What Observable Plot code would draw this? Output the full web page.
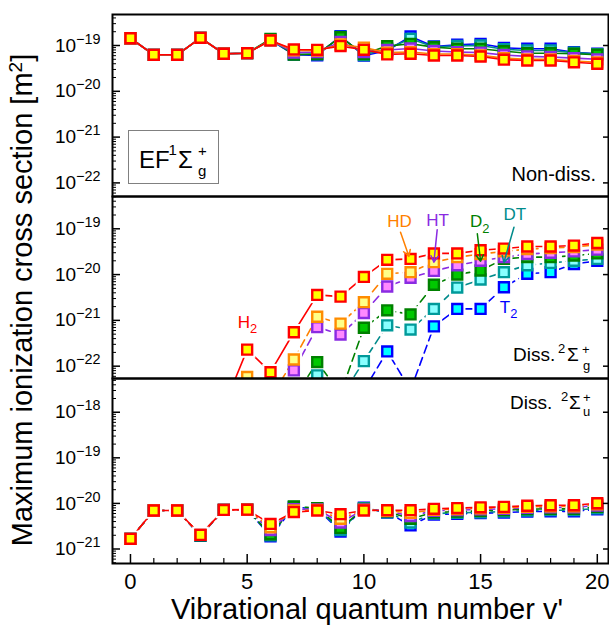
<!DOCTYPE html>
<html><head><meta charset="utf-8">
<script src="https://cdn.jsdelivr.net/npm/d3@7"></script>
<script src="https://cdn.jsdelivr.net/npm/@observablehq/plot@0.6"></script>
<style>
body{margin:0;background:#fff;}
#root{position:relative;width:609px;height:630px;overflow:hidden;font-family:"Liberation Sans",Arial,sans-serif;background:#fff;}
#root svg{position:absolute;left:0;overflow:visible;}
</style></head><body><div id="root"></div>
<script>
// ---------------- data ----------------
const vib = [0,1,2,3,4,5,6,7,8,9,10,11,12,13,14,15,16,17,18,19,20];
const isotopes = ["T2","DT","D2","HT","HD","H2"]; // drawing order (H2 on top)
const isoLabels = ["T_{2}","DT","D_{2}","HT","HD","H_{2}"];

// Panel 1: EF 1Σg+ (non-dissociative)
const efH2 = [1.44e-19,6.26e-20,6.26e-20,1.47e-19,6.6e-20,6.8e-20,1.29e-19,8.2e-20,8.05e-20,9.7e-20,8.05e-20,6.4e-20,6.6e-20,6.05e-20,6.05e-20,5.75e-20,4.9e-20,4.7e-20,4.7e-20,4.3e-20,4.0e-20];
const efHD = [1.44e-19,6.26e-20,6.26e-20,1.47e-19,6.6e-20,6.8e-20,1.29e-19,7.8e-20,7.7e-20,1.05e-19,9.0e-20,7.0e-20,7.2e-20,6.5e-20,6.5e-20,6.1e-20,5.3e-20,5.0e-20,5.0e-20,4.6e-20,4.3e-20];
const efHT = [1.44e-19,6.26e-20,6.26e-20,1.47e-19,6.6e-20,6.8e-20,1.3e-19,7.0e-20,7.2e-20,1.2e-19,7.2e-20,8.0e-20,8.6e-20,7.6e-20,7.2e-20,7.0e-20,6.2e-20,5.8e-20,5.6e-20,5.3e-20,5.0e-20];
const efD2 = [1.44e-19,6.26e-20,6.26e-20,1.47e-19,6.6e-20,6.8e-20,1.4e-19,6.3e-20,6.5e-20,1.52e-19,6.5e-20,9.7e-20,1.09e-19,9.2e-20,8.5e-20,8.5e-20,7.5e-20,6.8e-20,6.8e-20,6.6e-20,6.3e-20];
const efDT = [1.44e-19,6.26e-20,6.26e-20,1.47e-19,6.6e-20,6.8e-20,1.32e-19,6.4e-20,6.4e-20,1.55e-19,6.2e-20,8.5e-20,1.4e-19,9.3e-20,9.8e-20,1.0e-19,8.3e-20,7.8e-20,7.8e-20,7.0e-20,6.5e-20];
const efT2 = [1.44e-19,6.26e-20,6.26e-20,1.47e-19,6.6e-20,6.8e-20,1.32e-19,6.3e-20,6.1e-20,1.6e-19,6.0e-20,7.8e-20,1.57e-19,9.5e-20,1.04e-19,1.09e-19,8.9e-20,8.5e-20,8.5e-20,7.15e-20,6.6e-20];

// Panel 2: dissociative 2Σg+
const gH2 = [null,null,null,null,1.3e-23,2.3e-22,7.4e-23,5.5e-22,3.6e-21,3.3e-21,8.9e-21,2.1e-20,2.2e-20,2.9e-20,2.9e-20,3.4e-20,3.7e-20,4.1e-20,4.1e-20,4.3e-20,4.9e-20];
const gHD = [null,null,null,null,null,5.8e-23,2.0e-23,1.4e-22,1.2e-21,8.5e-22,2.5e-21,1.04e-20,1.13e-20,1.87e-20,2.4e-20,2.8e-20,3.2e-20,3.6e-20,3.8e-20,4.0e-20,4.5e-20];
const gHT = [null,null,null,null,null,null,2.0e-23,8.1e-23,7.1e-22,4.9e-22,1.45e-21,5.5e-21,8.5e-21,1.2e-20,1.6e-20,2.0e-20,2.4e-20,2.8e-20,3.0e-20,3.2e-20,3.5e-20];
const gD2 = [null,null,null,null,null,null,null,2.0e-23,1.23e-22,2.5e-23,6.9e-22,1.66e-21,1.35e-21,6.0e-21,1.0e-20,1.23e-20,2.2e-20,2.4e-20,2.4e-20,2.6e-20,2.9e-20];
const gDT = [null,null,null,null,null,null,null,2.0e-23,6.3e-23,2.0e-23,1.29e-22,7.8e-22,6.3e-22,1.78e-21,5.2e-21,7.8e-21,1.13e-20,1.6e-20,1.8e-20,2.0e-20,2.2e-20];
const gT2 = [null,null,null,null,null,null,null,null,null,null,3.0e-23,2.1e-22,3.0e-23,7.4e-22,1.78e-21,1.78e-21,5.3e-21,1.04e-20,1.13e-20,1.7e-20,2.0e-20];

// Panel 3: dissociative 2Σu+
const uH2 = [1.67e-21,6.98e-21,6.98e-21,2.04e-21,7.2e-21,7.3e-21,3.55e-21,6.45e-21,6.98e-21,5.8e-21,6.98e-21,7.1e-21,7.1e-21,7.6e-21,7.9e-21,8.2e-21,8.4e-21,8.9e-21,9.1e-21,9.1e-21,1.01e-20];
const uHD = [1.67e-21,6.98e-21,6.98e-21,2.04e-21,7.2e-21,7.3e-21,3.0e-21,7.0e-21,7.2e-21,4.6e-21,7.2e-21,6.9e-21,6.2e-21,7.2e-21,7.5e-21,7.8e-21,8.0e-21,8.4e-21,8.6e-21,8.6e-21,9.5e-21];
const uHT = [1.67e-21,6.98e-21,6.98e-21,2.04e-21,7.2e-21,7.3e-21,2.6e-21,7.5e-21,7.4e-21,3.8e-21,7.4e-21,6.8e-21,5.3e-21,6.9e-21,7.1e-21,7.4e-21,7.6e-21,8.0e-21,8.2e-21,8.2e-21,9.0e-21];
const uD2 = [1.67e-21,6.98e-21,6.98e-21,2.0e-21,7.2e-21,7.3e-21,2.1e-21,8.6e-21,7.9e-21,2.9e-21,7.6e-21,6.6e-21,4.6e-21,6.4e-21,6.6e-21,6.9e-21,7.1e-21,7.5e-21,7.6e-21,7.6e-21,8.4e-21];
const uDT = [1.67e-21,6.98e-21,6.98e-21,2.0e-21,7.2e-21,7.3e-21,2.0e-21,8.4e-21,7.8e-21,2.6e-21,7.9e-21,6.4e-21,3.8e-21,6.0e-21,6.2e-21,6.4e-21,6.6e-21,7.0e-21,7.1e-21,7.1e-21,7.8e-21];
const uT2 = [1.67e-21,6.98e-21,6.98e-21,1.95e-21,7.2e-21,7.3e-21,1.9e-21,8.2e-21,7.7e-21,2.4e-21,8.1e-21,6.3e-21,3.3e-21,5.7e-21,5.9e-21,6.1e-21,6.3e-21,6.6e-21,6.7e-21,6.7e-21,7.4e-21];

// Annotations in panel 2 (data coordinates)
const labelV   = [16.2, 16.47, 14.96, 13.16, 11.53, 5.01];
const labelVal = [1.9e-21, 2.0e-19, 1.41e-19, 1.48e-19, 1.41e-19, 8.8e-22];
const arrowIso = ["DT","D2","HT","HD"];
const arrowV1 = [16.43, 14.86, 13.14, 11.57];
const arrowS1 = [1.08e-19, 7.8e-20, 9.5e-20, 8.4e-20];
const arrowV2 = [16.0, 15.0, 13.0, 11.93];
const arrowS2 = [1.86e-20, 1.95e-20, 1.87e-20, 2.5e-20];

const xTicksMajor = [0,5,10,15,20];

// ---------------- styles ----------------
const lineColor = {H2:"#ff0000", HD:"#ff8000", HT:"#8a2be2", D2:"#008000", DT:"#008b8b", T2:"#0000ff"};
const edgeColor = {H2:"#ff0000", HD:"#ff8c00", HT:"#8a2be2", D2:"#008000", DT:"#009a9a", T2:"#0000ff"};
const faceColor = {H2:"#ffff00", HD:"#ffff88", HT:"#ff88ff", D2:"#00c800", DT:"#88ffff", T2:"#00ffff"};
const textColor = {H2:"#ff0000", HD:"#ff8000", HT:"#8a2be2", D2:"#008000", DT:"#008b8b", T2:"#0000ff"};

const W = 609, ML = 112, MR = 1;
const FW = W - ML - MR;
const xDomain = [-0.77, 20.48];

function table(arrs) {
  const rows = [];
  isotopes.forEach((iso) => {
    arrs[iso].forEach((val, i) => { if (val != null) rows.push({iso, v: vib[i], val}); });
  });
  return rows;
}

function decadeTicks(dom) {
  const lo = Math.log10(dom[0]), hi = Math.log10(dom[1]);
  const maj = [], min = [];
  for (let k = Math.floor(lo); k <= Math.ceil(hi); k++) {
    const p = Math.pow(10, k);
    if (k >= lo - 1e-9 && k <= hi + 1e-9) maj.push(p);
    for (let m = 2; m <= 9; m++) {
      const q = m * p;
      if (Math.log10(q) >= lo && Math.log10(q) <= hi) min.push(q);
    }
  }
  return {maj, min};
}

function seriesMarks(rows, dashed, halo) {
  const marks = [];
  for (const iso of isotopes) {
    const d = rows.filter(r => r.iso === iso);
    marks.push(Plot.line(d, {x: "v", y: "val", stroke: lineColor[iso], strokeWidth: 1.6,
      strokeDasharray: dashed && iso !== "H2" ? "8,5" : null, clip: true}));
    if (halo) marks.push(Plot.dot(d, {x: "v", y: "val", symbol: "square", r: 9.3, fill: "white", stroke: "none", clip: true}));
  }
  for (const iso of isotopes) {
    const d = rows.filter(r => r.iso === iso);
    marks.push(Plot.dot(d, {x: "v", y: "val", symbol: "square", r: 5.6, fill: faceColor[iso],
      stroke: edgeColor[iso], strokeWidth: 2.4, clip: true}));
  }
  return marks;
}

function axisMarks(dom, frameH, withX) {
  const {maj, min} = decadeTicks(dom);
  const e = d => { const k = Math.round(Math.log10(d)); return `10^{${k < 0 ? "\u2212" + (-k) : k}}`; };
  const m = [
    Plot.tickY(min, {y: d => d, insetRight: FW - 4, stroke: "black", strokeWidth: 1}),
    Plot.tickY(maj, {y: d => d, insetRight: FW - 8, stroke: "black", strokeWidth: 1.5}),
    Plot.tickY(maj, {y: d => d, insetLeft: FW - 5, stroke: "black", strokeWidth: 1.5}),
    Plot.axisY(maj, {tickSize: 0, tickPadding: 12, fontSize: 19, tickFormat: e, label: null})
  ];
  if (withX) {
    const minorX = vib.filter(v => !xTicksMajor.includes(v));
    m.push(Plot.tickX(minorX, {x: d => d, insetTop: frameH - 5, stroke: "black", strokeWidth: 1.2}));
    m.push(Plot.tickX(xTicksMajor, {x: d => d, insetTop: frameH - 9, stroke: "black", strokeWidth: 1.5}));
    m.push(Plot.axisX(xTicksMajor, {tickSize: 0, tickPadding: 10, fontSize: 22, label: null}));
  }
  m.push(Plot.frame({stroke: "black", strokeWidth: 2}));
  return m;
}

function panel({rows, dom, top, height, mt, mb, dashed, halo, withX, extra = []}) {
  const frameH = height - mt - mb;
  const svg = Plot.plot({
    width: W, height, marginLeft: ML, marginRight: MR, marginTop: mt, marginBottom: mb,
    style: {background: "transparent", fontFamily: '"Liberation Sans", Arial, sans-serif', color: "black"},
    x: {domain: xDomain, axis: null, label: null},
    y: {type: "log", domain: dom, label: null},
    marks: [...seriesMarks(rows, dashed, halo), ...extra, ...axisMarks(dom, frameH, withX)]
  });
  svg.style.top = top + "px";
  return svg;
}

const root = document.getElementById("root");

// Panel 1
const p1 = panel({
  rows: table({H2: efH2, HD: efHD, HT: efHT, D2: efD2, DT: efDT, T2: efT2}),
  dom: [Math.pow(10, -22.297), Math.pow(10, -18.323)], top: 0, height: 196, mt: 14, mb: 0, dashed: false, halo: false, withX: false
});

// Panel 2 with annotations
const labelRows = isotopes.map((iso, i) => ({iso, text: isoLabels[i], v: labelV[i], val: labelVal[i]}));
const arrowRows = arrowIso.map((iso, i) => ({iso, v1: arrowV1[i], s1: arrowS1[i], v2: arrowV2[i], s2: arrowS2[i]}));
const p2 = panel({
  rows: table({H2: gH2, HD: gHD, HT: gHT, D2: gD2, DT: gDT, T2: gT2}),
  dom: [Math.pow(10, -22.269), Math.pow(10, -18.295)], top: 196, height: 182, mt: 0, mb: 0, dashed: true, halo: true, withX: false,
  extra: [
    Plot.arrow(arrowRows, {x1: "v1", y1: "s1", x2: "v2", y2: "s2", stroke: d => lineColor[d.iso], strokeWidth: 1.5, headLength: 7}),
    Plot.text(labelRows, {x: "v", y: "val", text: "text", fill: d => textColor[d.iso], fontSize: 17})
  ]
});

// Panel 3
const p3 = panel({
  rows: table({H2: uH2, HD: uHD, HT: uHT, D2: uD2, DT: uDT, T2: uT2}),
  dom: [Math.pow(10, -21.318), Math.pow(10, -17.26)], top: 378, height: 252, mt: 0, mb: 67, dashed: true, halo: true, withX: true
});

[p1, p2, p3].forEach(s => root.appendChild(s));

// rich text (super/subscripts) for Plot-rendered texts
function richify(svg) {
  svg.querySelectorAll("text").forEach(el => {
    const s = el.textContent;
    if (!/[\^_]\{/.test(s)) return;
    const base = parseFloat(getComputedStyle(el).fontSize) || 16;
    const parts = s.split(/([\^_]\{[^}]*\})/).filter(p => p.length);
    el.textContent = "";
    let cur = 0;
    for (const p of parts) {
      const t = document.createElementNS("http://www.w3.org/2000/svg", "tspan");
      let target = 0, txt = p;
      if (p.startsWith("^{")) { target = -0.42 * base; txt = p.slice(2, -1); t.setAttribute("font-size", (0.76 * base).toFixed(1)); }
      else if (p.startsWith("_{")) { target = 0.3 * base; txt = p.slice(2, -1); t.setAttribute("font-size", (0.76 * base).toFixed(1)); }
      if (Math.abs(target - cur) > 0.01) t.setAttribute("dy", (target - cur).toFixed(1));
      cur = target;
      t.textContent = txt;
      el.appendChild(t);
    }
  });
}
[p1, p2, p3].forEach(richify);

// Overlay: titles and panel labels
const NS = "http://www.w3.org/2000/svg";
const ov = document.createElementNS(NS, "svg");
ov.setAttribute("width", W); ov.setAttribute("height", 630);
ov.style.top = "0px";
ov.setAttribute("font-family", '"Liberation Sans", Arial, sans-serif');
ov.innerHTML = `
  <rect x="128.5" y="130.5" width="90" height="53" fill="white" stroke="#808080" stroke-width="1"/>
  <text x="139" y="168" font-size="24">EF</text>
  <text x="168.5" y="155" font-size="15">1</text>
  <text x="178" y="168" font-size="24">\u03A3</text>
  <text x="198" y="156" font-size="15">+</text>
  <text x="198" y="176" font-size="15">g</text>
  <text x="596" y="181" font-size="20" text-anchor="end">Non-diss.</text>
  <text x="513" y="361" font-size="19">Diss.</text>
  <text x="558" y="353" font-size="13">2</text>
  <text x="567" y="361" font-size="19">\u03A3</text>
  <text x="582" y="354" font-size="13">+</text>
  <text x="583" y="370" font-size="13">g</text>
  <text x="510" y="409" font-size="19">Diss.</text>
  <text x="561" y="401" font-size="13">2</text>
  <text x="569" y="409" font-size="19">\u03A3</text>
  <text x="583" y="402" font-size="13">+</text>
  <text x="583" y="416" font-size="13">u</text>
  <text transform="translate(32,300) rotate(-90)" text-anchor="middle" font-size="29">Maximum ionization cross section [m<tspan dy="-10" font-size="19">2</tspan><tspan dy="10">]</tspan></text>
  <text x="367" y="619" text-anchor="middle" font-size="29">Vibrational quantum number v'</text>
`;
root.appendChild(ov);
</script>
</body></html>
